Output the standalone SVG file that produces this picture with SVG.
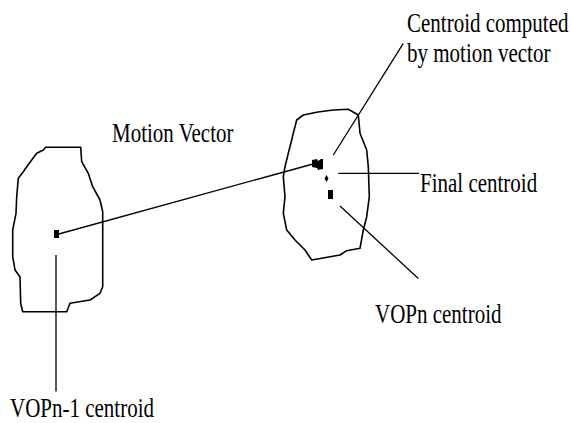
<svg xmlns="http://www.w3.org/2000/svg" width="571" height="423" viewBox="0 0 571 423">
<style>
.blob{fill:none;stroke:#000;stroke-width:1.6;stroke-linejoin:round}
.ln{stroke:#000;stroke-width:1.3;fill:none}
.pt{fill:#000}
text{font-family:"Liberation Serif","Times New Roman",serif;font-size:21px;fill:#000}
</style>
<rect width="571" height="423" fill="#fff"/>
<g id="blob-left">
<path class="blob" d="M45.7,147.3 L80.7,147.3 L81.7,161.7 L88.3,173.3 L92.7,186.7 L100,200 L102.7,211.7 L102.7,286.7 L100,293.3 L90,300 L70,303.3 L66.7,311.7 L22.7,311.7 L20.7,303.3 L20,276.7 L15,270 L12.7,256.7 L12.7,230 L16,213.3 L16.7,196.7 L18.3,178.3 L23.3,171.7 L26.7,166.7 L31.7,160 L36.7,153.3 L43.3,150 Z"/>
<rect class="pt" x="54" y="230" width="5" height="8"/>
</g>
<g id="blob-right">
<path class="blob" d="M303.3,115 L318,112 L333.3,110 L348.3,109.3 L358.3,115 L360,133.3 L366.7,150 L368.3,166.7 L369.3,196.7 L366.7,216.7 L363.3,230 L360,248.3 L346.7,250.7 L340,255 L311.7,260 L305,250 L295,240 L286.7,230 L283.3,213.3 L285,196.7 L283.3,176.7 L285,166.7 L288.3,153.3 L291.7,140 L293.3,133.3 L296.7,120 Z"/>
<path class="pt" d="M312,160 L317,159 L318,161 L321,159 L323,159 L323,169 L318,170 L317,168 L312,167 Z"/>
<path class="pt" d="M326.5,175 L328.5,178.5 L326.5,182 L324.5,178.5 Z"/>
<rect class="pt" x="328" y="190" width="5" height="9"/>
</g>
<g id="connectors">
<line class="ln" x1="57" y1="234.5" x2="313" y2="164"/>
<line class="ln" x1="403.3" y1="43.3" x2="333.3" y2="155"/>
<line class="ln" x1="338.3" y1="173.3" x2="419" y2="173.3"/>
<line class="ln" x1="340" y1="206" x2="418.3" y2="278.5"/>
<line class="ln" x1="56" y1="255" x2="56" y2="391.5"/>
</g>
<g id="labels">
<text transform="translate(112,141.5) scale(1,1.28)">Motion Vector</text>
<text transform="translate(407,31.5) scale(1,1.28)">Centroid computed</text>
<text transform="translate(407,61.5) scale(1,1.28)">by motion vector</text>
<text transform="translate(420,191.5) scale(1,1.28)">Final centroid</text>
<text transform="translate(375,322.5) scale(1,1.28)">VOPn centroid</text>
<text transform="translate(10,416.5) scale(1,1.28)">VOPn-1 centroid</text>
</g>
</svg>
